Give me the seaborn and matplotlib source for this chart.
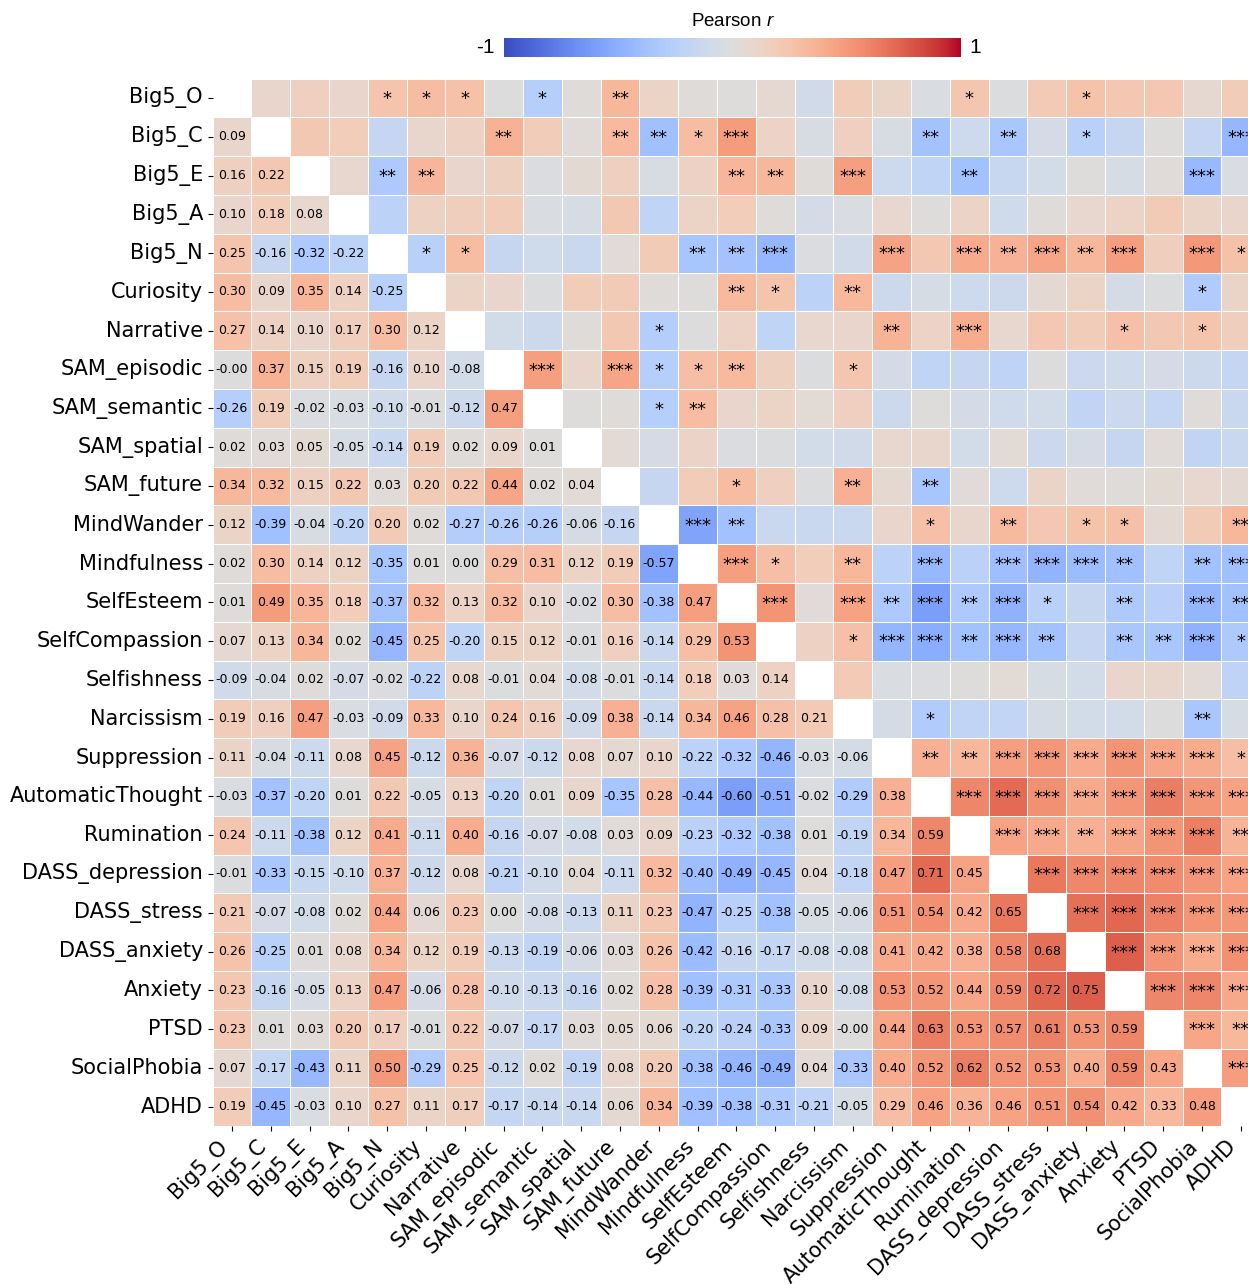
import numpy as np
import pandas as pd
import matplotlib
matplotlib.use("Agg")
import matplotlib.pyplot as plt
import seaborn as sns

# ---------------------------------------------------------------------------
# Variables (rows / columns of the correlation matrix)
# ---------------------------------------------------------------------------
variables = [
    "Big5_O", "Big5_C", "Big5_E", "Big5_A", "Big5_N", "Curiosity", "Narrative",
    "SAM_episodic", "SAM_semantic", "SAM_spatial", "SAM_future", "MindWander",
    "Mindfulness", "SelfEsteem", "SelfCompassion", "Selfishness", "Narcissism",
    "Suppression", "AutomaticThought", "Rumination", "DASS_depression",
    "DASS_stress", "DASS_anxiety", "Anxiety", "PTSD", "SocialPhobia", "ADHD",
]

# Lower-triangle Pearson r, one list per row (columns Big5_O ... up to the diagonal)
r_big5_c = [0.09]
r_big5_e = [0.16, 0.22]
r_big5_a = [0.10, 0.18, 0.08]
r_big5_n = [0.25, -0.16, -0.32, -0.22]
r_curiosity = [0.30, 0.09, 0.35, 0.14, -0.25]
r_narrative = [0.27, 0.14, 0.10, 0.17, 0.30, 0.12]
r_sam_episodic = [-0.00, 0.37, 0.15, 0.19, -0.16, 0.10, -0.08]
r_sam_semantic = [-0.26, 0.19, -0.02, -0.03, -0.10, -0.01, -0.12, 0.47]
r_sam_spatial = [0.02, 0.03, 0.05, -0.05, -0.14, 0.19, 0.02, 0.09, 0.01]
r_sam_future = [0.34, 0.32, 0.15, 0.22, 0.03, 0.20, 0.22, 0.44, 0.02, 0.04]
r_mindwander = [0.12, -0.39, -0.04, -0.20, 0.20, 0.02, -0.27, -0.26, -0.26, -0.06, -0.16]
r_mindfulness = [0.02, 0.30, 0.14, 0.12, -0.35, 0.01, 0.00, 0.29, 0.31, 0.12, 0.19, -0.57]
r_selfesteem = [0.01, 0.49, 0.35, 0.18, -0.37, 0.32, 0.13, 0.32, 0.10, -0.02, 0.30, -0.38,
                0.47]
r_selfcompassion = [0.07, 0.13, 0.34, 0.02, -0.45, 0.25, -0.20, 0.15, 0.12, -0.01, 0.16,
                    -0.14, 0.29, 0.53]
r_selfishness = [-0.09, -0.04, 0.02, -0.07, -0.02, -0.22, 0.08, -0.01, 0.04, -0.08, -0.01,
                 -0.14, 0.18, 0.03, 0.14]
r_narcissism = [0.19, 0.16, 0.47, -0.03, -0.09, 0.33, 0.10, 0.24, 0.16, -0.09, 0.38, -0.14,
                0.34, 0.46, 0.28, 0.21]
r_suppression = [0.11, -0.04, -0.11, 0.08, 0.45, -0.12, 0.36, -0.07, -0.12, 0.08, 0.07, 0.10,
                 -0.22, -0.32, -0.46, -0.03, -0.06]
r_automaticthought = [-0.03, -0.37, -0.20, 0.01, 0.22, -0.05, 0.13, -0.20, 0.01, 0.09, -0.35,
                      0.28, -0.44, -0.60, -0.51, -0.02, -0.29, 0.38]
r_rumination = [0.24, -0.11, -0.38, 0.12, 0.41, -0.11, 0.40, -0.16, -0.07, -0.08, 0.03, 0.09,
                -0.23, -0.32, -0.38, 0.01, -0.19, 0.34, 0.59]
r_dass_depression = [-0.01, -0.33, -0.15, -0.10, 0.37, -0.12, 0.08, -0.21, -0.10, 0.04, -0.11,
                     0.32, -0.40, -0.49, -0.45, 0.04, -0.18, 0.47, 0.71, 0.45]
r_dass_stress = [0.21, -0.07, -0.08, 0.02, 0.44, 0.06, 0.23, 0.00, -0.08, -0.13, 0.11, 0.23,
                 -0.47, -0.25, -0.38, -0.05, -0.06, 0.51, 0.54, 0.42, 0.65]
r_dass_anxiety = [0.26, -0.25, 0.01, 0.08, 0.34, 0.12, 0.19, -0.13, -0.19, -0.06, 0.03, 0.26,
                  -0.42, -0.16, -0.17, -0.08, -0.08, 0.41, 0.42, 0.38, 0.58, 0.68]
r_anxiety = [0.23, -0.16, -0.05, 0.13, 0.47, -0.06, 0.28, -0.10, -0.13, -0.16, 0.02, 0.28,
             -0.39, -0.31, -0.33, 0.10, -0.08, 0.53, 0.52, 0.44, 0.59, 0.72, 0.75]
r_ptsd = [0.23, 0.01, 0.03, 0.20, 0.17, -0.01, 0.22, -0.07, -0.17, 0.03, 0.05, 0.06, -0.20,
          -0.24, -0.33, 0.09, -0.00, 0.44, 0.63, 0.53, 0.57, 0.61, 0.53, 0.59]
r_socialphobia = [0.07, -0.17, -0.43, 0.11, 0.50, -0.29, 0.25, -0.12, 0.02, -0.19, 0.08, 0.20,
                  -0.38, -0.46, -0.49, 0.04, -0.33, 0.40, 0.52, 0.62, 0.52, 0.53, 0.40, 0.59,
                  0.43]
r_adhd = [0.19, -0.45, -0.03, 0.10, 0.27, 0.11, 0.17, -0.17, -0.14, -0.14, 0.06, 0.34, -0.39,
          -0.38, -0.31, -0.21, -0.05, 0.29, 0.46, 0.36, 0.46, 0.51, 0.54, 0.42, 0.33, 0.48]

lower_rows = [
    r_big5_c, r_big5_e, r_big5_a, r_big5_n, r_curiosity, r_narrative, r_sam_episodic,
    r_sam_semantic, r_sam_spatial, r_sam_future, r_mindwander, r_mindfulness, r_selfesteem,
    r_selfcompassion, r_selfishness, r_narcissism, r_suppression, r_automaticthought,
    r_rumination, r_dass_depression, r_dass_stress, r_dass_anxiety, r_anxiety, r_ptsd,
    r_socialphobia, r_adhd,
]

# Significance markers shown in the upper triangle (row variable -> {column: stars})
sig_big5_o = {"Big5_N": "*", "Curiosity": "*", "Narrative": "*", "SAM_semantic": "*",
              "SAM_future": "**", "Rumination": "*", "DASS_anxiety": "*"}
sig_big5_c = {"SAM_episodic": "**", "SAM_future": "**", "MindWander": "**", "Mindfulness": "*",
              "SelfEsteem": "***", "AutomaticThought": "**", "DASS_depression": "**",
              "DASS_anxiety": "*", "ADHD": "***"}
sig_big5_e = {"Big5_N": "**", "Curiosity": "**", "SelfEsteem": "**", "SelfCompassion": "**",
              "Narcissism": "***", "Rumination": "**", "SocialPhobia": "***"}
sig_big5_a = {}
sig_big5_n = {"Curiosity": "*", "Narrative": "*", "Mindfulness": "**", "SelfEsteem": "**",
              "SelfCompassion": "***", "Suppression": "***", "Rumination": "***",
              "DASS_depression": "**", "DASS_stress": "***", "DASS_anxiety": "**",
              "Anxiety": "***", "SocialPhobia": "***", "ADHD": "*"}
sig_curiosity = {"SelfEsteem": "**", "SelfCompassion": "*", "Narcissism": "**",
                 "SocialPhobia": "*"}
sig_narrative = {"MindWander": "*", "Suppression": "**", "Rumination": "***", "Anxiety": "*",
                 "SocialPhobia": "*"}
sig_sam_episodic = {"SAM_semantic": "***", "SAM_future": "***", "MindWander": "*",
                    "Mindfulness": "*", "SelfEsteem": "**", "Narcissism": "*"}
sig_sam_semantic = {"MindWander": "*", "Mindfulness": "**"}
sig_sam_spatial = {}
sig_sam_future = {"SelfEsteem": "*", "Narcissism": "**", "AutomaticThought": "**"}
sig_mindwander = {"Mindfulness": "***", "SelfEsteem": "**", "AutomaticThought": "*",
                  "DASS_depression": "**", "DASS_anxiety": "*", "Anxiety": "*", "ADHD": "**"}
sig_mindfulness = {"SelfEsteem": "***", "SelfCompassion": "*", "Narcissism": "**",
                   "AutomaticThought": "***", "DASS_depression": "***", "DASS_stress": "***",
                   "DASS_anxiety": "***", "Anxiety": "**", "SocialPhobia": "**", "ADHD": "***"}
sig_selfesteem = {"SelfCompassion": "***", "Narcissism": "***", "Suppression": "**",
                  "AutomaticThought": "***", "Rumination": "**", "DASS_depression": "***",
                  "DASS_stress": "*", "Anxiety": "**", "SocialPhobia": "***", "ADHD": "**"}
sig_selfcompassion = {"Narcissism": "*", "Suppression": "***", "AutomaticThought": "***",
                      "Rumination": "**", "DASS_depression": "***", "DASS_stress": "**",
                      "Anxiety": "**", "PTSD": "**", "SocialPhobia": "***", "ADHD": "*"}
sig_selfishness = {}
sig_narcissism = {"AutomaticThought": "*", "SocialPhobia": "**"}
sig_suppression = {"AutomaticThought": "**", "Rumination": "**", "DASS_depression": "***",
                   "DASS_stress": "***", "DASS_anxiety": "***", "Anxiety": "***",
                   "PTSD": "***", "SocialPhobia": "***", "ADHD": "*"}
sig_automaticthought = {"Rumination": "***", "DASS_depression": "***", "DASS_stress": "***",
                        "DASS_anxiety": "***", "Anxiety": "***", "PTSD": "***",
                        "SocialPhobia": "***", "ADHD": "***"}
sig_rumination = {"DASS_depression": "***", "DASS_stress": "***", "DASS_anxiety": "**",
                  "Anxiety": "***", "PTSD": "***", "SocialPhobia": "***", "ADHD": "**"}
sig_dass_depression = {"DASS_stress": "***", "DASS_anxiety": "***", "Anxiety": "***",
                       "PTSD": "***", "SocialPhobia": "***", "ADHD": "***"}
sig_dass_stress = {"DASS_anxiety": "***", "Anxiety": "***", "PTSD": "***",
                   "SocialPhobia": "***", "ADHD": "***"}
sig_dass_anxiety = {"Anxiety": "***", "PTSD": "***", "SocialPhobia": "***", "ADHD": "***"}
sig_anxiety = {"PTSD": "***", "SocialPhobia": "***", "ADHD": "***"}
sig_ptsd = {"SocialPhobia": "***", "ADHD": "**"}
sig_socialphobia = {"ADHD": "***"}

sig_rows = [
    sig_big5_o, sig_big5_c, sig_big5_e, sig_big5_a, sig_big5_n, sig_curiosity, sig_narrative,
    sig_sam_episodic, sig_sam_semantic, sig_sam_spatial, sig_sam_future, sig_mindwander,
    sig_mindfulness, sig_selfesteem, sig_selfcompassion, sig_selfishness, sig_narcissism,
    sig_suppression, sig_automaticthought, sig_rumination, sig_dass_depression,
    sig_dass_stress, sig_dass_anxiety, sig_anxiety, sig_ptsd, sig_socialphobia,
]

# ---------------------------------------------------------------------------
# Build the symmetric matrix (diagonal left empty)
# ---------------------------------------------------------------------------
n = len(variables)
r = np.full((n, n), np.nan)
for i, row in enumerate(lower_rows, start=1):
    for j, v in enumerate(row):
        r[i, j] = v
        r[j, i] = v
corr = pd.DataFrame(r, index=variables, columns=variables)

annot = np.full((n, n), "", dtype=object)
for i in range(n):
    for j in range(i):
        annot[i, j] = f"{r[i, j]:.2f}"

# ---------------------------------------------------------------------------
# Figure
# ---------------------------------------------------------------------------
W, H = 1248, 1285
plt.rcParams["mathtext.fontset"] = "custom"
plt.rcParams["mathtext.rm"] = "Liberation Sans"
plt.rcParams["mathtext.it"] = "Liberation Sans:italic"

fig = plt.figure(figsize=(W / 100, H / 100), dpi=100)
cell = 38.8
left, top = 212.6, 78.6
ax = fig.add_axes([left / W, 1 - (top + n * cell) / H, n * cell / W, n * cell / H])
cax = fig.add_axes([504 / W, 1 - 57 / H, 457 / W, 19 / H])

sns.heatmap(
    corr, ax=ax, cmap="coolwarm", vmin=-1, vmax=1,
    annot=annot, fmt="", annot_kws={"size": 9, "color": "black"},
    linewidths=0.6, linecolor="white",
    cbar_ax=cax, cbar_kws={"orientation": "horizontal"},
)

# significance stars in the upper triangle
for i, sig in enumerate(sig_rows):
    for col, stars in sig.items():
        j = variables.index(col)
        ax.text(j + 0.5, i + 0.5 + 0.03, stars, ha="center", va="center",
                fontsize=13, color="black")

ax.set_xticks(np.arange(n) + 0.5)
ax.set_yticks(np.arange(n) + 0.5)
ax.set_xticklabels(variables, rotation=45, ha="right", fontsize=15)
ax.set_yticklabels(variables, rotation=0, fontsize=15)
ax.tick_params(length=3.5, width=0.8)

# colorbar styling
cbar = ax.collections[0].colorbar
cbar.outline.set_visible(False)
cax.set_xticks([])
cax.set_yticks([])

fig.text(495 / W, 1 - 47.5 / H, "-1", ha="right", va="center", fontsize=15,
         family="Liberation Sans")
fig.text(969 / W, 1 - 47.5 / H, "1", ha="left", va="center", fontsize=15,
         family="Liberation Sans")
fig.text(732.5 / W, 1 - 21 / H, r"Pearson $\mathit{r}$", ha="center", va="center",
         fontsize=13.5, family="Liberation Sans")

fig.savefig("out.png", dpi=100)
